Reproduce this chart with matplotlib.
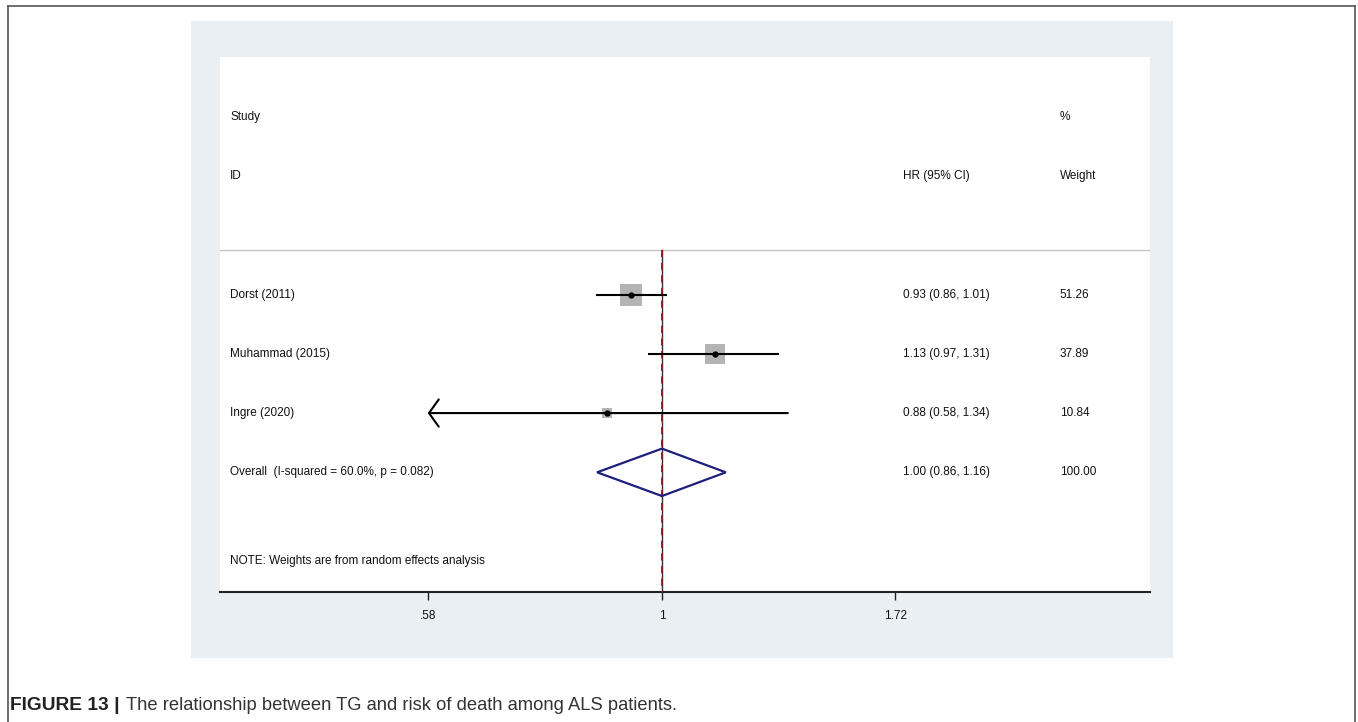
#!/usr/bin/env python3
"""Forest plot: TG and risk of death among ALS patients (random effects)."""

import matplotlib
matplotlib.use('Agg')
import matplotlib.pyplot as plt
from matplotlib.patches import Rectangle, Polygon
from matplotlib.lines import Line2D
from matplotlib.transforms import blended_transform_factory
import numpy as np

# ── Data ───────────────────────────────────────────────────────────────

studies = ["Dorst (2011)", "Muhammad (2015)", "Ingre (2020)"]
hr = [0.93, 1.13, 0.88]
ci_low = [0.86, 0.97, 0.58]
ci_high = [1.01, 1.31, 1.34]
weights = [51.26, 37.89, 10.84]

overall_label = "Overall  (I-squared = 60.0%, p = 0.082)"
overall_hr = 1.00
overall_low = 0.86
overall_high = 1.16

tick_values = [0.58, 1.0, 1.72]
tick_labels = [".58", "1", "1.72"]

caption_bold = "FIGURE 13 |"
caption_text = "The relationship between TG and risk of death among ALS patients."

# Display range of the log axis (Stata lower bound clip is .58)
X_MIN, X_MAX = 0.3578, 3.111

FONT = "Liberation Sans"
TXT = '#111111'
SQUARE = '#b4b4b4'
DIAMOND = '#1e1e7c'
REDLINE = '#8b1a1a'
PANEL = '#e9eff2'

W, H = 1358, 722
fig = plt.figure(figsize=(W / 100, H / 100), dpi=100)


def fx(px):
    return px / W


def fy(py):
    return 1 - py / H


# outer frame (page box)
for xs, ys in [([8, 8], [6, 722]), ([8, 1355], [6, 6]), ([1355, 1355], [6, 722])]:
    fig.add_artist(Line2D([fx(x) for x in xs], [fy(y) for y in ys],
                          color='#555555', lw=1.2))

# light stata graph region
fig.add_artist(Rectangle((fx(191), fy(658)), fx(1173) - fx(191), fy(21) - fy(658),
                         facecolor=PANEL, edgecolor='none', zorder=0))

ax = fig.add_axes([fx(220), fy(592), fx(1150) - fx(220), fy(57) - fy(592)])
ax.set_facecolor('white')
ax.set_xscale('log')
ax.set_xlim(X_MIN, X_MAX)
ax.set_ylim(8.02, -1.01)

for s in ['top', 'left', 'right']:
    ax.spines[s].set_visible(False)
ax.spines['bottom'].set_linewidth(1.5)
ax.spines['bottom'].set_color('#222222')
ax.set_yticks([])
ax.set_xticks(tick_values)
ax.set_xticklabels(tick_labels, fontsize=8.5, family=FONT, color=TXT)
ax.xaxis.set_minor_locator(matplotlib.ticker.NullLocator())
ax.tick_params(axis='x', length=6, width=1, color='#222222', pad=7)

trans = blended_transform_factory(ax.transAxes, ax.transData)
tkw = dict(fontsize=8.5, family=FONT, color=TXT, va='center', transform=trans)

# headers
ax.text(0.0108, 0, "Study", **tkw)
ax.text(0.0108, 1, "ID", **tkw)
ax.text(0.7344, 1, "HR (95% CI)", **tkw)
ax.text(0.903, 0, "%", **tkw)
ax.text(0.903, 1, "Weight", **tkw)

# separator under header
ax.axhline(2.25, color='#c4c4c4', lw=1)

# null line and overall effect line
ax.plot([1, 1], [2.25, 8.02], color='#333333', lw=1, zorder=2)
ax.plot([overall_hr, overall_hr], [2.25, 8.02], color=REDLINE, lw=1.3,
        dashes=(4, 3), zorder=3)

rows = np.arange(len(studies)) + 3
for y, name, h, lo, hi, w in zip(rows, studies, hr, ci_low, ci_high, weights):
    ax.plot(h, y, 's', color=SQUARE, markersize=2.25 * np.sqrt(w),
            markeredgewidth=0, zorder=4)
    if lo <= 0.58:
        ax.annotate("", xy=(lo, y), xytext=(hi, y),
                    arrowprops=dict(arrowstyle='->,head_length=0.5,head_width=0.7',
                                    color='black', lw=1.5, shrinkA=0, shrinkB=0,
                                    mutation_scale=14), zorder=5)
    else:
        ax.plot([lo, hi], [y, y], color='black', lw=1.5, zorder=5)
    ax.plot(h, y, 'o', color='black', markersize=3.5, zorder=6)
    ax.text(0.0108, y, name, **tkw)
    ax.text(0.7344, y, f"{h:.2f} ({lo:.2f}, {hi:.2f})", **tkw)
    ax.text(0.903, y, f"{w:.2f}", **tkw)

# overall diamond
oy = len(studies) + 3
diamond = Polygon([(overall_low, oy), (overall_hr, oy - 0.4),
                   (overall_high, oy), (overall_hr, oy + 0.4)],
                  closed=True, fill=False, edgecolor=DIAMOND, lw=1.6, zorder=5)
ax.add_patch(diamond)
ax.text(0.0108, oy, overall_label, **tkw)
ax.text(0.7344, oy, f"{overall_hr:.2f} ({overall_low:.2f}, {overall_high:.2f})", **tkw)
ax.text(0.903, oy, "100.00", **tkw)

ax.text(0.0108, 7.5, "NOTE: Weights are from random effects analysis", **tkw)

# caption
t1 = fig.text(fx(10), fy(705), caption_bold, fontsize=13.8, family=FONT,
              fontweight='bold', color='#222222', va='center')
fig.canvas.draw()
bb = t1.get_window_extent(renderer=fig.canvas.get_renderer())
fig.text(bb.x1 / W + fx(6), fy(705), caption_text, fontsize=13.2, family=FONT,
         color='#333333', va='center')

fig.savefig('out.png', dpi=100)
